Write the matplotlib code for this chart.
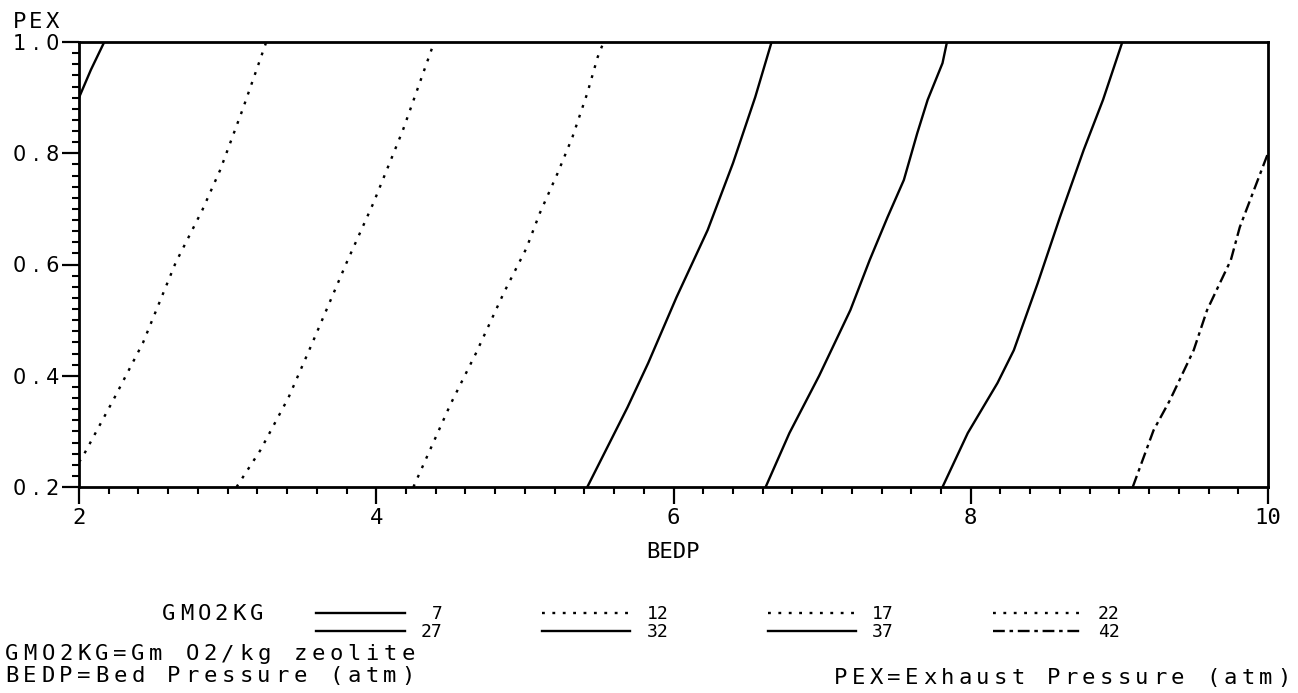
import numpy as np
import matplotlib.pyplot as plt
from matplotlib.ticker import MultipleLocator

# GMO2KG contour levels and the curves (BEDP vs PEX)
levels = [7, 12, 17, 22, 27, 32, 37, 42]

bedp_7 = [2.00, 2.08, 2.17]
pex_7 = [0.90, 0.95, 1.00]

bedp_12 = [2.00, 2.02, 2.23, 2.43, 2.65, 2.83, 2.95, 3.10, 3.26]
pex_12 = [0.245, 0.252, 0.356, 0.459, 0.603, 0.698, 0.770, 0.878, 1.00]

bedp_17 = [3.06, 3.22, 3.41, 3.57, 3.80, 3.98, 4.18, 4.39]
pex_17 = [0.20, 0.266, 0.361, 0.459, 0.603, 0.710, 0.842, 1.00]

bedp_22 = [4.25, 4.50, 4.67, 4.86, 5.01, 5.10, 5.22, 5.32, 5.42, 5.49, 5.53]
pex_22 = [0.20, 0.349, 0.44, 0.55, 0.629, 0.692, 0.764, 0.829, 0.908, 0.973, 1.00]

bedp_27 = [5.42, 5.69, 5.83, 6.02, 6.23, 6.40, 6.55, 6.66]
pex_27 = [0.20, 0.343, 0.423, 0.541, 0.662, 0.782, 0.901, 1.00]

bedp_32 = [6.62, 6.78, 6.98, 7.19, 7.32, 7.44, 7.55, 7.64, 7.71, 7.81, 7.84]
pex_32 = [0.20, 0.297, 0.40, 0.518, 0.608, 0.685, 0.752, 0.836, 0.896, 0.962, 1.00]

bedp_37 = [7.81, 7.98, 8.18, 8.29, 8.45, 8.60, 8.76, 8.89, 9.02]
pex_37 = [0.20, 0.297, 0.387, 0.446, 0.566, 0.685, 0.806, 0.896, 1.00]

bedp_42 = [9.09, 9.23, 9.34, 9.50, 9.59, 9.75, 9.81, 10.00]
pex_42 = [0.20, 0.302, 0.356, 0.446, 0.518, 0.608, 0.667, 0.80]

curves = [(bedp_7, pex_7), (bedp_12, pex_12), (bedp_17, pex_17), (bedp_22, pex_22),
          (bedp_27, pex_27), (bedp_32, pex_32), (bedp_37, pex_37), (bedp_42, pex_42)]

dotted = (0, (1.2, 3.2))
dashdot = (0, (5, 2, 1.5, 2))
styles = ['-', dotted, dotted, dotted, '-', '-', '-', dashdot]

mono = 'DejaVu Sans Mono'

W, H = 1298, 693
fig = plt.figure(figsize=(W / 100, H / 100), dpi=100)
ax = fig.add_axes([79 / W, 1 - 487 / H, (1268 - 79) / W, (487 - 42) / H])

lines = []
for (bx, py), ls, lev in zip(curves, styles, levels):
    ln, = ax.plot(bx, py, color='black', lw=1.7, linestyle=ls, label=f"{lev:>2d}")
    lines.append(ln)

ax.set_xlim(2, 10)
ax.set_ylim(0.2, 1.0)
for sp in ax.spines.values():
    sp.set_linewidth(2)

ax.xaxis.set_major_locator(MultipleLocator(2))
ax.xaxis.set_minor_locator(MultipleLocator(0.2))
ax.yaxis.set_major_locator(MultipleLocator(0.2))
ax.yaxis.set_minor_locator(MultipleLocator(0.02))
ax.tick_params(which='major', direction='out', length=12, width=1.6, pad=3, labelsize=15)
ax.tick_params(which='minor', direction='out', length=5, width=1.5)
ax.tick_params(axis='y', which='major', pad=2)

xt = [2, 4, 6, 8, 10]
ax.set_xticks(xt)
ax.set_xticklabels([str(v) for v in xt], family=mono, fontsize=16)
yt = [0.2, 0.4, 0.6, 0.8, 1.0]
ax.set_yticks(yt)
ax.set_yticklabels([" ".join(f"{v:.1f}") for v in yt], fontsize=15)

ax.set_xlabel("BEDP", fontsize=16, family=mono, labelpad=10)


def plotter_text(x_px, y_px, s, pitch=18, size=16):
    # place characters one by one to mimic the wide pen-plotter lettering
    for i, ch in enumerate(s):
        if ch != ' ':
            fig.text((x_px + i * pitch) / W, 1 - y_px / H, ch, fontsize=size,
                     family=mono, ha='center', va='center')


plotter_text(20, 22, "PEX", pitch=16)
plotter_text(169, 614, "GMO2KG", pitch=17.5)
plotter_text(12, 654, "GMO2KG=Gm O2/kg zeolite")
plotter_text(12, 676, "BEDP=Bed Pressure (atm)")
plotter_text(841, 678, "PEX=Exhaust Pressure (atm)", pitch=17.7)

# legend: column-wise order 7/27, 12/32, 17/37, 22/42
order = [0, 4, 1, 5, 2, 6, 3, 7]
fig.legend([lines[i] for i in order], [lines[i].get_label() for i in order],
           ncol=4, loc='upper left', bbox_to_anchor=(307 / W, 1 - 596 / H),
           frameon=False, handlelength=4.9, handletextpad=0.9,
           columnspacing=5.5, labelspacing=0.0, borderpad=0,
           prop={'family': mono, 'size': 13})

fig.savefig("out.png", dpi=100)
